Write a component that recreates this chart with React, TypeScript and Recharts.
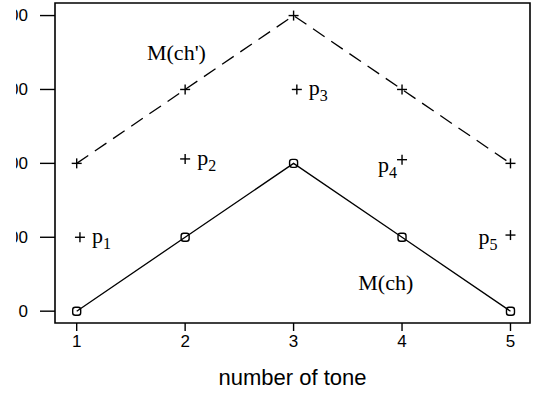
import { ComposedChart, Line, Scatter, XAxis, YAxis, ReferenceArea, Label } from 'recharts';

// tone numbers on the x axis
const tones = [1, 2, 3, 4, 5];
// M(ch) - solid line with open markers
const mchValues = [0, 100, 200, 100, 0];
// M(ch') - dashed line with plus markers
const mchPrimeValues = [200, 300, 400, 300, 200];
// loose points p1..p5
const pX = [1.03, 2, 3.03, 4, 5];
const pY = [100, 206, 300, 205, 103];
const pNames = ['1', '2', '3', '4', '5'];
const yTicks = [0, 100, 200, 300, 400];

// label offsets (px) of each p label from its point
const pLabelDx = [12, 12, 12, -5, -13];
const pLabelDy = [6, 6, 6, 12, 9];

const lowerData = tones.map((t, i) => ({ x: t, y: mchValues[i] }));
const upperData = tones.map((t, i) => ({ x: t, y: mchPrimeValues[i] }));
const pointData = pX.map((x, i) => ({ x, y: pY[i], name: pNames[i], dx: pLabelDx[i], dy: pLabelDy[i] }));
const notes = [
  { x: 1.92, y: 340, text: "M(ch')" },
  { x: 3.85, y: 28, text: 'M(ch)' },
];

const SERIF = '"Liberation Serif", "DejaVu Serif", serif';
const SANS = '"Liberation Sans", Arial, sans-serif';

const Plus = ({ cx, cy, size = 5 }: any) => (
  <g stroke="#000" strokeWidth={1.4}>
    <line x1={cx - size} y1={cy} x2={cx + size} y2={cy} />
    <line x1={cx} y1={cy - size} x2={cx} y2={cy + size} />
  </g>
);

const OpenDot = ({ cx, cy }: any) => (
  <rect x={cx - 4} y={cy - 4} width={8} height={8} rx={2.5} fill="none" stroke="#000" strokeWidth={1.4} />
);

const PointShape = (props: any) => {
  const { cx, cy, payload } = props;
  const right = payload.dx > 0;
  return (
    <g>
      <Plus cx={cx} cy={cy} />
      <text
        x={cx + payload.dx}
        y={cy + payload.dy}
        textAnchor={right ? 'start' : 'end'}
        fontFamily={SERIF}
        fontSize={22}
        fill="#000"
      >
        p<tspan fontSize={16} dy={6}>{payload.name}</tspan>
      </text>
    </g>
  );
};

const NoteShape = ({ cx, cy, payload }: any) => (
  <text x={cx} y={cy} textAnchor="middle" fontFamily={SERIF} fontSize={22} fill="#000">
    {payload.text}
  </text>
);

const YTick = ({ x, y, payload, index }: any) => (
  <g>
    <defs>
      <clipPath id={`yclip-${index}`}>
        <rect x={16} y={y - 20} width={60} height={40} />
      </clipPath>
    </defs>
    <text
      x={x}
      y={y}
      textAnchor="end"
      dominantBaseline="central"
      fontFamily={SANS}
      fontSize={17}
      fill="#000"
      clipPath={`url(#yclip-${index})`}
    >
      {payload.value}
    </text>
  </g>
);

export default function App() {
  return (
    <div style={{ position: 'absolute', left: 0, top: 0, width: 536, height: 400, background: '#fff' }}>
      <ComposedChart width={536} height={400} margin={{ top: 3, right: 6, left: 0, bottom: 0 }}>
        <XAxis
          type="number"
          dataKey="x"
          domain={[0.8, 5.18]}
          ticks={tones}
          allowDataOverflow
          axisLine={false}
          tickSize={8}
          tickMargin={4}
          tickLine={{ stroke: '#000', strokeWidth: 1.4 }}
          tick={{ fill: '#000', fontSize: 17, fontFamily: SANS }}
          height={77}
        >
          <Label value="number of tone" position="insideBottom" offset={15} fill="#000" fontSize={22} fontFamily={SANS} />
        </XAxis>
        <YAxis
          type="number"
          dataKey="y"
          domain={[-16, 417]}
          ticks={yTicks}
          allowDataOverflow
          axisLine={false}
          width={55}
          tickSize={15}
          tickMargin={12}
          tickLine={{ stroke: '#000', strokeWidth: 1.4 }}
          tick={<YTick />}
        />
        <ReferenceArea x1={0.8} x2={5.18} y1={-16} y2={417} fill="none" stroke="#000" strokeWidth={1.6} />
        <Line
          data={lowerData}
          dataKey="y"
          stroke="#000"
          strokeWidth={1.3}
          dot={<OpenDot />}
          isAnimationActive={false}
        />
        <Line
          data={upperData}
          dataKey="y"
          stroke="#000"
          strokeWidth={1.3}
          strokeDasharray="14 8"
          dot={<Plus />}
          isAnimationActive={false}
        />
        <Scatter data={pointData} dataKey="y" shape={<PointShape />} isAnimationActive={false} />
        <Scatter data={notes} dataKey="y" shape={<NoteShape />} isAnimationActive={false} />
      </ComposedChart>
    </div>
  );
}
